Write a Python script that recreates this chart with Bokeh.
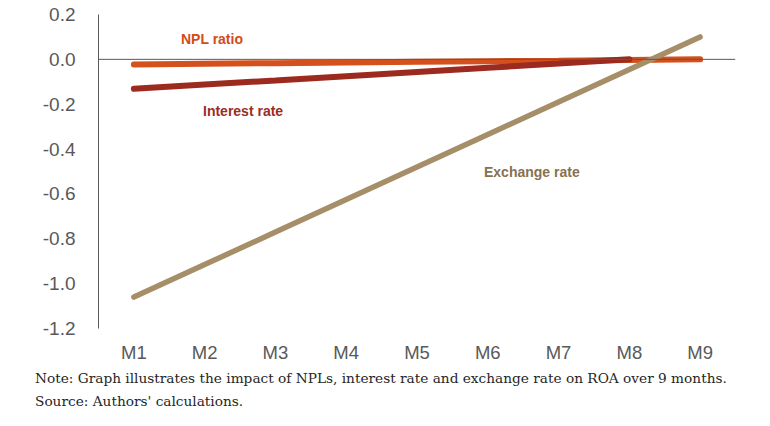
from bokeh.plotting import figure
from bokeh.models import FactorRange, Range1d, FixedTicker, NumeralTickFormatter, Span, Label, Title
from bokeh.embed import file_html
from bokeh.resources import INLINE

months = ["M1", "M2", "M3", "M4", "M5", "M6", "M7", "M8", "M9"]
npl_ratio = [-0.023, -0.020, -0.017, -0.014, -0.011, -0.008, -0.006, -0.003, 0.000]
interest_rate = [-0.131, -0.112, -0.094, -0.075, -0.056, -0.037, -0.019, 0.000]
exchange_rate = [-1.06, -0.915, -0.77, -0.625, -0.48, -0.335, -0.19, -0.045, 0.10]
y_ticks = [-1.2, -1.0, -0.8, -0.6, -0.4, -0.2, 0.0, 0.2]
note_lines = [
    "Note: Graph illustrates the impact of NPLs, interest rate and exchange rate on ROA over 9 months.",
    "Source: Authors' calculations.",
]

C_NPL = "#D4501C"
C_INT = "#9C2A1F"
C_EXC = "#A68E69"

p = figure(width=754, height=411, x_range=FactorRange(factors=months),
           y_range=Range1d(-1.2, 0.2), output_backend="svg", toolbar_location=None,
           min_border_left=98, min_border_right=19, min_border_top=14, min_border_bottom=80)
p.outline_line_color = None
p.xgrid.visible = False
p.ygrid.visible = False
p.background_fill_color = "white"
p.border_fill_color = "white"

p.yaxis.ticker = FixedTicker(ticks=y_ticks)
p.yaxis.formatter = NumeralTickFormatter(format="0.0")
p.yaxis.major_tick_line_color = None
p.yaxis.minor_tick_line_color = None
p.yaxis.axis_line_color = "#595959"
p.yaxis.major_label_text_font = "Liberation Sans"
p.yaxis.major_label_text_font_size = "19px"
p.yaxis.major_label_text_color = "#595959"
p.yaxis.major_label_standoff = 17

p.xaxis.axis_line_color = None
p.xaxis.major_tick_line_color = None
p.xaxis.minor_tick_line_color = None
p.xaxis.major_label_text_font = "Liberation Sans"
p.xaxis.major_label_text_font_size = "18.5px"
p.xaxis.major_label_text_color = "#595959"
p.xaxis.major_label_standoff = 7

p.add_layout(Span(location=0, dimension="width", line_color="#595959", line_width=1))

p.line(months, npl_ratio, line_color=C_NPL, line_width=6, line_cap="round")
p.line(months[:len(interest_rate)], interest_rate, line_color=C_INT, line_width=6, line_cap="round")
p.line(months, exchange_rate, line_color=C_EXC, line_width=5.5, line_cap="round")

for txt, x, y, col in [("NPL ratio", 82.5, 290, "#D24B1B"),
                       ("Interest rate", 104.5, 218, "#9B2D24"),
                       ("Exchange rate", 385.5, 157, "#86724F")]:
    p.add_layout(Label(x=x, y=y, x_units="screen", y_units="screen", text=txt,
                       text_font="Liberation Sans", text_font_style="bold",
                       text_font_size="14px", text_color=col, text_baseline="middle"))

for line, st in zip(note_lines, [5, 5]):
    p.add_layout(Title(text=line, align="left", offset=-63.5, standoff=st,
                       text_font="DejaVu Serif", text_font_size="13.7px",
                       text_font_style="normal", text_color="#262626"), "below")

open("out.html", "w").write(file_html(p, INLINE))
